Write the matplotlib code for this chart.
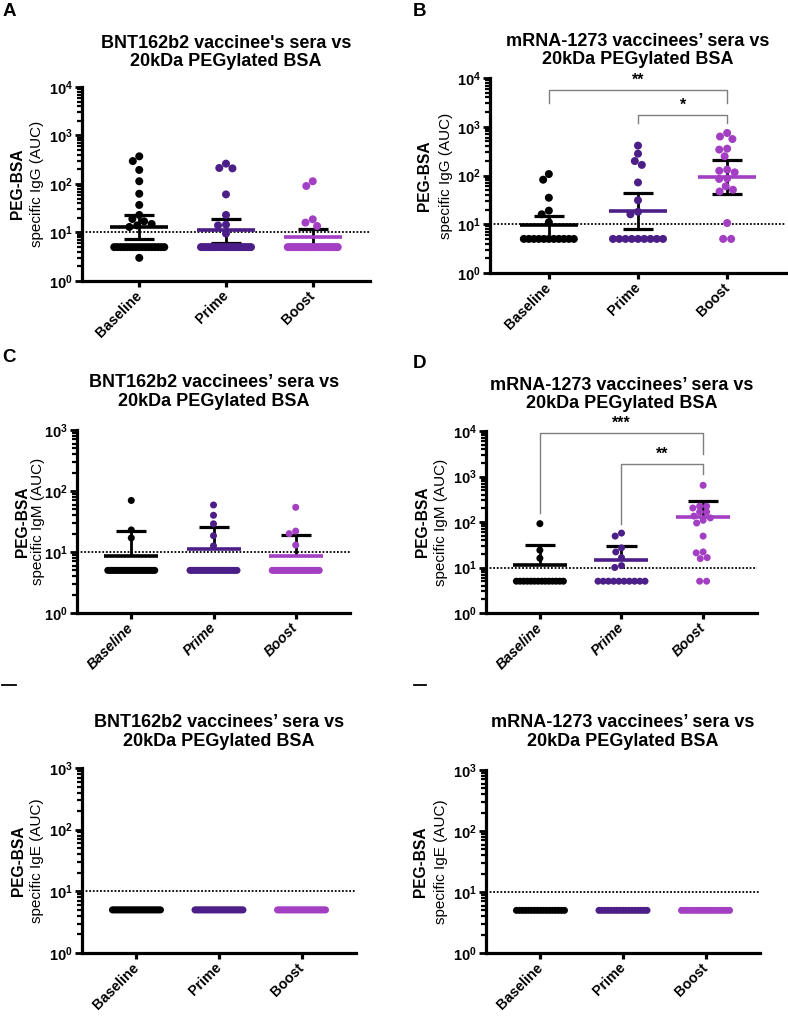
import numpy as np
import matplotlib
matplotlib.use('Agg')
import matplotlib.pyplot as plt
from matplotlib.ticker import LogLocator, NullFormatter
from matplotlib.lines import Line2D

plt.rcParams['font.family'] = ['Liberation Sans', 'DejaVu Sans']
plt.rcParams['mathtext.fontset'] = 'custom'
plt.rcParams['mathtext.rm'] = 'Liberation Sans:bold'
plt.rcParams['mathtext.it'] = 'Liberation Sans:bold'
plt.rcParams['mathtext.bf'] = 'Liberation Sans:bold'

groups = ['Baseline', 'Prime', 'Boost']
colors = ['#000000', '#4b1f87', '#a33fc2']

# ---- data: PEG-BSA specific antibodies (AUC) ----
# BNT162b2 IgG
bnt_igg_base = [372, 297, 195, 114, 63, 37, 23, 19, 17, 15, 14, 13, 3] + [5] * 17
bnt_igg_prime = [263, 214, 210, 61, 23, 14.5, 14, 9.5] + [5] * 22
bnt_igg_boost = [114, 91, 18.7, 16, 13.6] + [5] * 25
bnt_igg_mean = [13, 11, 7.9]
bnt_igg_hi = [22.6, 19.4, 12.0]
bnt_igg_lo = [7.5, 6.1, 5.3]

# mRNA-1273 IgG
mod_igg_base = [107, 82, 35, 19, 16, 11] + [5] * 11
mod_igg_prime = [410, 280, 198, 165, 72, 31, 18, 16] + [5] * 9
mod_igg_boost = [745, 630, 560, 355, 340, 248, 132, 125, 116, 87, 85, 60, 51, 47, 10.6, 5, 5]
mod_igg_mean = [9.5, 19, 92]
mod_igg_hi = [15, 44, 205]
mod_igg_lo = [5.3, 8, 42]

# BNT162b2 IgM
bnt_igm_base = [70, 23, 17] + [5] * 27
bnt_igm_prime = [59, 40, 29, 18.5, 12.6] + [5] * 25
bnt_igm_boost = [54, 22, 20, 13] + [5] * 26
bnt_igm_mean = [8.5, 11.4, 8.5]
bnt_igm_hi = [21.7, 25.6, 19.1]
bnt_igm_lo = [8.5, 11.4, 8.5]

# mRNA-1273 IgM
mod_igm_base = [92, 24, 16] + [5] * 14
mod_igm_prime = [57, 49, 27, 22, 16.5, 11, 10] + [5] * 10
mod_igm_boost = [640, 222, 222, 203, 166, 166, 135, 123, 109, 95, 49, 22, 21, 16.5, 15.7, 5, 5]
mod_igm_mean = [11.2, 14.5, 129]
mod_igm_hi = [31, 30, 283]
mod_igm_lo = [11.2, 14.5, 129]

# IgE: everything below detection
bnt_ige = [[5] * 30, [5] * 30, [5] * 30]
mod_ige = [[5] * 17, [5] * 17, [5] * 17]

W, H = 788, 1017
fig = plt.figure(figsize=(W / 100, H / 100), dpi=100)


def axes_px(left, top, right, bottom):
    return fig.add_axes([left / W, 1 - bottom / H, (right - left) / W, (bottom - top) / H])


def swarm(ax, xc, vals, d, maxw):
    # simple beeswarm in pixel space, rows of identical values spread evenly
    tr = ax.transData
    ppu = tr.transform((1, 1))[0] - tr.transform((0, 1))[0]
    ys = np.array([tr.transform((0, v))[1] for v in vals])
    xs = np.zeros(len(vals))
    done = np.zeros(len(vals), bool)
    uniq, cnt = np.unique(vals, return_counts=True)
    for u, c in zip(uniq, cnt):
        if c > 1:
            idx = np.where(np.array(vals) == u)[0]
            step = min(d, maxw / (c - 1))
            xs[idx] = (np.arange(c) - (c - 1) / 2) * step
            done[idx] = True
    order = np.argsort(-np.array(vals))
    for i in order:
        if done[i]:
            continue
        near = [(xs[j], abs(ys[i] - ys[j])) for j in range(len(vals)) if done[j] and abs(ys[i] - ys[j]) < d]
        cands = [0.0]
        for xj, dy in near:
            dx = np.sqrt(d * d - dy * dy)
            cands += [xj - dx, xj + dx]
        cands.sort(key=abs)
        for c in cands:
            if all(abs(c - xj) >= np.sqrt(d * d - dy * dy) - 1e-6 for xj, dy in near):
                xs[i] = c
                break
        done[i] = True
    return xc + xs / ppu


def panel(ax, data, top_exp, mean=None, hi=None, lo=None, dot=7, rowpx=50, italic=False):
    ax.set_yscale('log')
    ax.set_ylim(1, 10 ** top_exp)
    ax.set_xlim(-0.66, 2.66)
    for s in ['top', 'right']:
        ax.spines[s].set_visible(False)
    for s in ['left', 'bottom']:
        ax.spines[s].set_linewidth(2.3)
    ax.set_yticks([10 ** k for k in range(top_exp + 1)])
    ax.set_yticklabels([r'$10^{%d}$' % k for k in range(top_exp + 1)])
    ax.yaxis.set_minor_locator(LogLocator(base=10, subs=np.arange(2, 10)))
    ax.yaxis.set_minor_formatter(NullFormatter())
    ax.tick_params(axis='y', which='major', length=5, width=2, labelsize=10.5, pad=1.5)
    ax.tick_params(axis='y', which='minor', length=3.5, width=1.6)
    ax.set_xticks([0, 1, 2])
    ax.set_xticklabels(groups, rotation=45, ha='right', va='center', rotation_mode='anchor',
                       fontweight='bold', fontsize=10.3, fontstyle='italic' if italic else 'normal')
    ax.tick_params(axis='x', length=4, width=2.3, pad=5)
    ax.axhline(10, color='k', ls=(0, (1, 1)), lw=1.3, zorder=1)
    ppu = ax.transData.transform((1, 1))[0] - ax.transData.transform((0, 1))[0]
    s = (dot * 0.72) ** 2
    for i, vals in enumerate(data):
        xs = swarm(ax, i, vals, dot, rowpx)
        ax.scatter(xs, vals, s=s, color=colors[i], edgecolors='none', zorder=3, clip_on=False)
        if mean is None:
            continue
        hw = 0.5 * (rowpx + dot) / ppu
        cw = 15 / ppu
        ax.vlines(i, lo[i], hi[i], color='k', lw=2, zorder=2)
        ax.hlines(hi[i], i - cw, i + cw, color='k', lw=2.3, zorder=2)
        if lo[i] < mean[i]:
            ax.hlines(lo[i], i - cw, i + cw, color='k', lw=2.3, zorder=2)
        ax.hlines(mean[i], i - hw, i + hw, color=colors[i], lw=2.6, zorder=4)


def bracket(ax, x1, x2, y, y1, y2, stars, ty):
    ax.plot([x1, x1, x2, x2], [y1, y, y, y2], color='#7f7f7f', lw=1, clip_on=False, zorder=5)
    ax.text((x1 + x2) / 2, ty, stars, ha='center', va='center', fontsize=11.5, fontweight='bold',
            clip_on=False)


def ylab(ax, iso, off1, off2):
    pos = ax.get_position()
    yc = (pos.y0 + pos.y1) / 2
    fig.text(pos.x0 - off1 / W, yc, 'PEG-BSA', rotation=90, ha='center', va='center',
             fontsize=11.2, fontweight='bold')
    fig.text(pos.x0 - off2 / W, yc, 'specific %s (AUC)' % iso, rotation=90, ha='center',
             va='center', fontsize=11)


def title(xc, yc, text):
    fig.text(xc / W, 1 - yc / H, text, ha='center', va='center', fontsize=13, fontweight='bold',
             linespacing=1.1)


axA = axes_px(82, 87, 370, 281)
axB = axes_px(490, 78, 786, 273)
axC = axes_px(77, 430, 350, 613)
axD = axes_px(486, 431, 757, 613)
axE = axes_px(82, 768, 356, 953)
axF = axes_px(486, 770, 760, 953)

panel(axA, [bnt_igg_base, bnt_igg_prime, bnt_igg_boost], 4, bnt_igg_mean, bnt_igg_hi, bnt_igg_lo, dot=8, rowpx=50)
panel(axB, [mod_igg_base, mod_igg_prime, mod_igg_boost], 4, mod_igg_mean, mod_igg_hi, mod_igg_lo, dot=8, rowpx=50)
panel(axC, [bnt_igm_base, bnt_igm_prime, bnt_igm_boost], 3, bnt_igm_mean, bnt_igm_hi, bnt_igm_lo, dot=7, rowpx=47, italic=True)
panel(axD, [mod_igm_base, mod_igm_prime, mod_igm_boost], 4, mod_igm_mean, mod_igm_hi, mod_igm_lo, dot=7, rowpx=47, italic=True)
panel(axE, bnt_ige, 3, dot=7, rowpx=48)
panel(axF, mod_ige, 3, dot=7, rowpx=48)

bracket(axB, 0, 2, 10 ** 3.76, 10 ** 3.49, 10 ** 3.49, '**', 10 ** 3.95)
bracket(axB, 1, 2, 10 ** 3.25, 10 ** 3.08, 10 ** 3.08, '*', 10 ** 3.44)
bracket(axD, 0, 2, 10 ** 3.96, 10 ** 2.20, 10 ** 3.50, '***', 10 ** 4.17)
bracket(axD, 1, 2, 10 ** 3.28, 10 ** 1.96, 10 ** 3.05, '**', 10 ** 3.49)

ylab(axA, 'IgG', 65, 45)
ylab(axB, 'IgG', 66, 44)
ylab(axC, 'IgM', 54, 39)
ylab(axD, 'IgM', 64, 45)
ylab(axE, 'IgE', 64, 45)
ylab(axF, 'IgE', 65, 45)

title(226, 52.5, "BNT162b2 vaccinee's sera vs\n20kDa PEGylated BSA")
title(638, 50.5, "mRNA-1273 vaccinees\u2019 sera vs\n20kDa PEGylated BSA")
title(214, 392, "BNT162b2 vaccinees\u2019 sera vs\n20kDa PEGylated BSA")
title(622, 394.5, "mRNA-1273 vaccinees\u2019 sera vs\n20kDa PEGylated BSA")
title(219, 732, "BNT162b2 vaccinees\u2019 sera vs\n20kDa PEGylated BSA")
title(623, 732, "mRNA-1273 vaccinees\u2019 sera vs\n20kDa PEGylated BSA")

for lab, x, y in [('A', 9, 12), ('B', 419, 12), ('C', 9, 358), ('D', 419, 363)]:
    fig.text(x / W, 1 - y / H, lab, ha='center', va='center', fontsize=13.5, fontweight='bold')

# cut-off panel letters of the bottom row
for x1, x2 in [(2, 16), (414, 426)]:
    fig.add_artist(Line2D([x1 / W, x2 / W], [1 - 685 / H, 1 - 685 / H], color='k', lw=1.3))

fig.savefig('out.png', dpi=100)
